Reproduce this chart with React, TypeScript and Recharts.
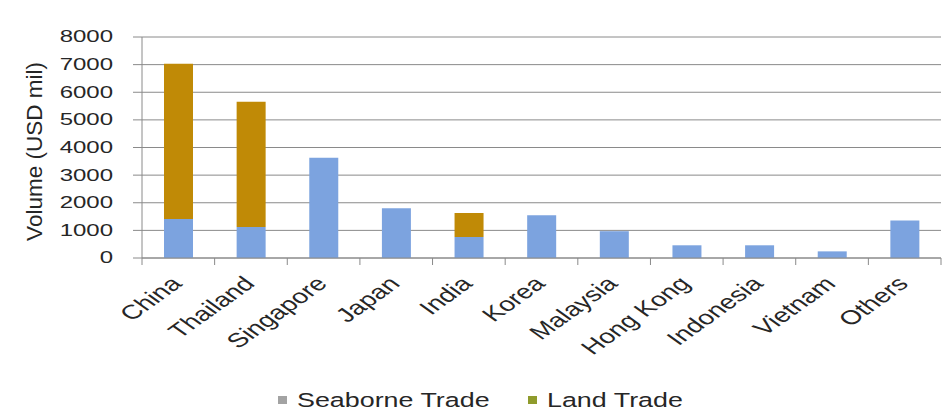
import { BarChart, Bar, XAxis, YAxis, CartesianGrid } from 'recharts';

const categories = ['China', 'Thailand', 'Singapore', 'Japan', 'India', 'Korea', 'Malaysia', 'Hong Kong', 'Indonesia', 'Vietnam', 'Others'];
const seaborne = [1410, 1120, 3625, 1800, 760, 1550, 970, 460, 460, 240, 1360];
const land = [5620, 4540, 0, 0, 870, 0, 0, 0, 0, 0, 0];
const yTicks = [0, 1000, 2000, 3000, 4000, 5000, 6000, 7000, 8000];

const SEA_COLOR = '#7ca3df';
const LAND_COLOR = '#c08a06';
const GRID = '#8a8a8a';
const TEXT = '#262626';
const FONT = '"Liberation Sans", Arial, sans-serif';

const W = 946;
const H = 412;
const X_AXIS_H = 30;
const MARGIN = { top: 37, right: 5, bottom: 154 - X_AXIS_H, left: 0 };
const Y_AXIS_W = 142;
const BAND = (W - MARGIN.left - MARGIN.right - Y_AXIS_W) / categories.length;

const data = categories.map((name, i) => ({ name, seaborne: seaborne[i], land: land[i] }));

// the source image is stretched sideways, so the text is too
function YTick({ x, y, payload }: any) {
  return (
    <text
      transform={`translate(${x},${y}) scale(1.5,1)`}
      textAnchor="end"
      dominantBaseline="central"
      fontSize={16}
      fontFamily={FONT}
      fill={TEXT}
    >
      {payload.value}
    </text>
  );
}

function XTick({ x, y, payload, index }: any) {
  const last = index === categories.length - 1;
  return (
    <g>
      <line x1={x - BAND / 2} x2={x - BAND / 2} y1={y} y2={y + 7} stroke={GRID} />
      {last && <line x1={x + BAND / 2} x2={x + BAND / 2} y1={y} y2={y + 7} stroke={GRID} />}
      <text
        transform={`translate(${x + 5},${y + 27}) scale(1.4,1) rotate(-45)`}
        textAnchor="end"
        fontSize={20}
        fontFamily={FONT}
        fill={TEXT}
      >
        {payload.value}
      </text>
    </g>
  );
}

function YLabel({ viewBox }: any) {
  const cx = viewBox.x + 34;
  const cy = viewBox.y + viewBox.height / 2 + 4;
  return (
    <text
      x={cx}
      y={cy}
      transform={`rotate(-90, ${cx}, ${cy})`}
      textAnchor="middle"
      dominantBaseline="central"
      fontSize={22.5}
      fontFamily={FONT}
      fill={TEXT}
    >
      Volume (USD mil)
    </text>
  );
}

function LegendItem({ color, label, left }: { color: string; label: string; left: number }) {
  return (
    <>
      <span style={{ position: 'absolute', left, top: 396, width: 9, height: 8, background: color }} />
      <span
        style={{
          position: 'absolute',
          left: left + 19,
          top: 388,
          fontSize: 20.5,
          lineHeight: '23px',
          fontFamily: FONT,
          color: TEXT,
          whiteSpace: 'nowrap',
          transform: 'scale(1.31,1)',
          transformOrigin: 'left center',
        }}
      >
        {label}
      </span>
    </>
  );
}

export default function App() {
  return (
    <div style={{ position: 'absolute', left: 0, top: 0, width: W, height: H, background: '#fff' }}>
      <BarChart width={W} height={H} data={data} margin={MARGIN} barSize={29}>
        <CartesianGrid stroke={GRID} vertical={false} />
        <XAxis
          dataKey="name"
          interval={0}
          height={X_AXIS_H}
          tickLine={false}
          tickSize={0}
          tickMargin={0}
          axisLine={{ stroke: GRID }}
          tick={<XTick />}
        />
        <YAxis
          domain={[0, 8000]}
          ticks={yTicks}
          interval={0}
          width={Y_AXIS_W}
          tickSize={9}
          tickMargin={20}
          tickLine={{ stroke: GRID }}
          axisLine={{ stroke: GRID }}
          tick={<YTick />}
          label={{ content: YLabel }}
        />
        <Bar dataKey="seaborne" stackId="a" fill={SEA_COLOR} isAnimationActive={false} />
        <Bar dataKey="land" stackId="a" fill={LAND_COLOR} isAnimationActive={false} />
      </BarChart>
      <LegendItem color="#a3a3a3" label="Seaborne Trade" left={278} />
      <LegendItem color="#8f9b2c" label="Land Trade" left={528} />
    </div>
  );
}
